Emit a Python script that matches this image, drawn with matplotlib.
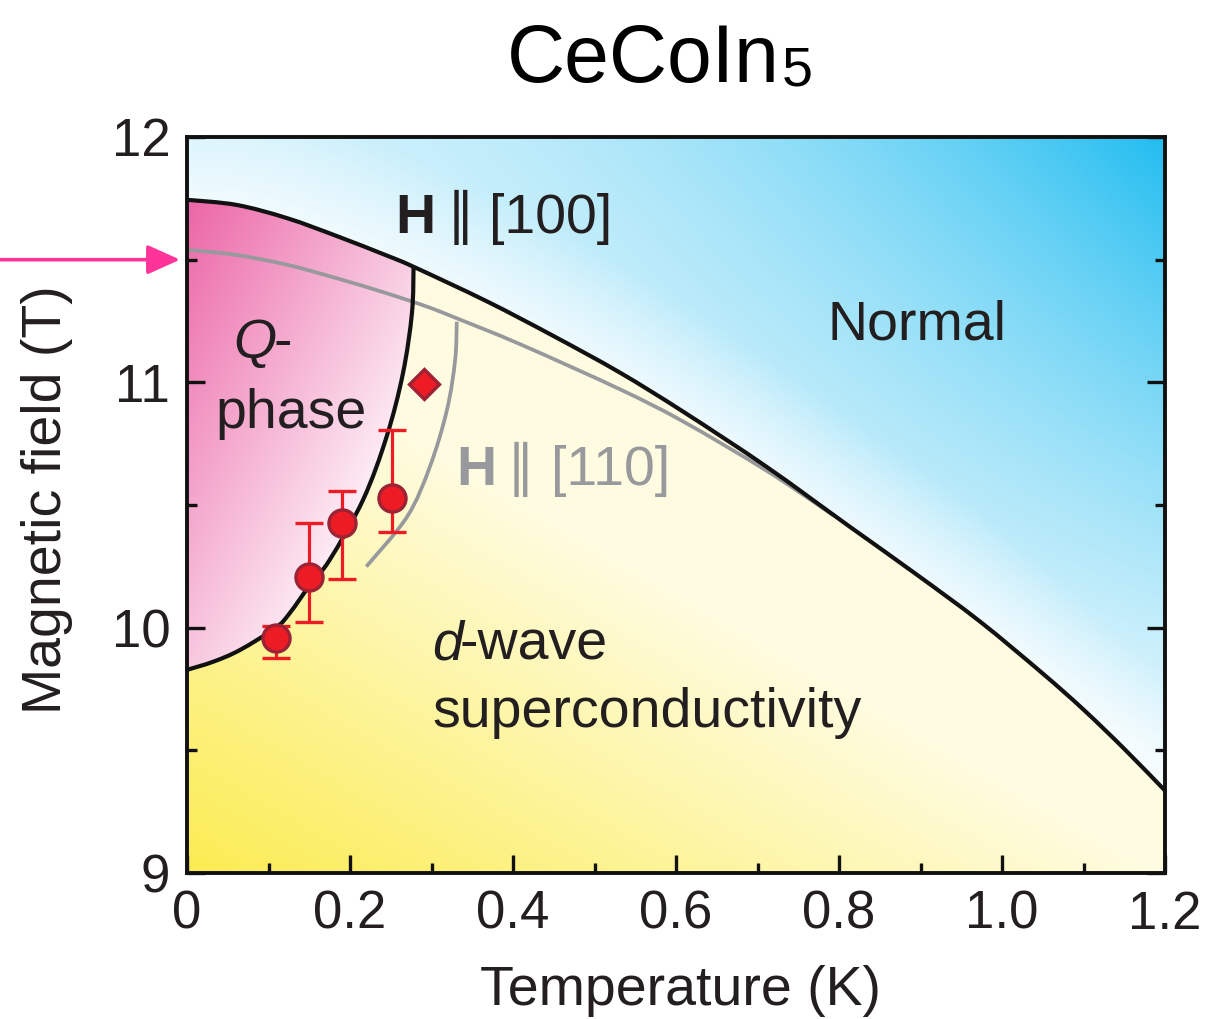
import numpy as np
import matplotlib
matplotlib.use("Agg")
import matplotlib.pyplot as plt
from matplotlib.path import Path
from matplotlib.patches import PathPatch
from matplotlib.ticker import MultipleLocator

# ---------------- data ----------------
# Upper critical field, H || [100]
hc2_100_T = [0, 0.061, 0.123, 0.184, 0.245, 0.278, 0.368, 0.449, 0.531, 0.609,
             0.711, 0.813, 0.893, 0.973, 1.05, 1.1, 1.15, 1.2]
hc2_100_H = [11.744, 11.723, 11.669, 11.596, 11.517, 11.471, 11.330, 11.190,
             11.040, 10.880, 10.656, 10.412, 10.222, 10.025, 9.813, 9.666,
             9.506, 9.336]
# Upper critical field, H || [110] (merges with [100] near 0.8 K)
hc2_110_T = [0, 0.061, 0.123, 0.184, 0.245, 0.294, 0.331, 0.409, 0.531, 0.609,
             0.711, 0.793]
hc2_110_H = [11.540, 11.519, 11.479, 11.424, 11.363, 11.309, 11.261, 11.155,
             10.972, 10.840, 10.640, 10.458]
# Q-phase boundary, H || [100]
q100_T = [0, 0.032, 0.065, 0.109, 0.126, 0.150, 0.175, 0.216, 0.245, 0.265,
          0.276, 0.278]
q100_H = [9.828, 9.861, 9.909, 10.0, 10.059, 10.17, 10.276, 10.521, 10.779,
          11.037, 11.282, 11.471]
# Q-phase boundary, H || [110]
q110_T = [0.220, 0.270, 0.298, 0.319, 0.329, 0.331]
q110_H = [10.249, 10.452, 10.656, 10.888, 11.091, 11.247]
# Data points with asymmetric error bars
pts_T = [0.109, 0.150, 0.190, 0.251]
pts_H = [9.957, 10.208, 10.428, 10.530]
pts_lo = [9.878, 10.024, 10.197, 10.391]
pts_hi = [10.007, 10.426, 10.557, 10.806]
dia_T = [0.291]
dia_H = [10.993]

x_ticks = [0, 0.2, 0.4, 0.6, 0.8, 1.0, 1.2]
x_ticklabels = ["0", "0.2", "0.4", "0.6", "0.8", "1.0", "1.2"]
y_ticks = [9, 10, 11, 12]
y_ticklabels = ["9", "10", "11", "12"]

# ---------------- figure ----------------
W, Hpx = 1214, 1019
plt.rcParams["font.family"] = ["Liberation Sans", "DejaVu Sans"]
TXT = "#231F20"
GRAY = "#97999C"
BLACK = "#111111"

fig = plt.figure(figsize=(W / 100, Hpx / 100), dpi=100)
ax = fig.add_axes([187 / W, 1 - 873 / Hpx, (1165 - 187) / W, (873 - 137) / Hpx])
ax.set_xlim(0, 1.2)
ax.set_ylim(9, 12)


def fx(px):
    return px / W


def fy(py):
    return 1 - py / Hpx


def bezier_verts(xs, ys):
    """Smooth (Catmull-Rom) cubic Bezier control vertices through the points."""
    P = np.column_stack([xs, ys]).astype(float)
    n = len(P)
    verts = [P[0]]
    for i in range(n - 1):
        p0 = P[i - 1] if i > 0 else P[i]
        p1, p2 = P[i], P[i + 1]
        p3 = P[i + 2] if i + 2 < n else P[i + 1]
        verts += [p1 + (p2 - p0) / 6, p2 - (p3 - p1) / 6, p2]
    return np.array(verts)


def curve_path(xs, ys):
    vv = bezier_verts(xs, ys)
    codes = [Path.MOVETO] + [Path.CURVE4] * (len(vv) - 1)
    return Path(vv, codes)


def draw_curve(xs, ys, color, lw, z):
    ax.add_patch(PathPatch(curve_path(xs, ys), fill=False, edgecolor=color,
                           lw=lw, zorder=z, capstyle="butt", joinstyle="round"))


# ---------------- background gradients ----------------
nx, ny = 600, 460
u = np.linspace(0, 1, nx)
v = np.linspace(0, 1, ny)
U, V = np.meshgrid(u, v)
ext = (0, 1.2, 9, 12)

# blue (normal state)
curve_v = (np.interp(U * 1.2, hc2_100_T, hc2_100_H) - 9) / 3
d = V - curve_v
tb = (0.21 + 0.79 * U ** 2) * np.clip(V, 0, 1) ** 1.2
fb = 0.35 + 0.65 * np.clip(d / 0.15, 0, 1)
tb = np.clip(tb * fb, 0, 1)
blue = np.array([0.13, 0.74, 0.94])
img_b = 1 - tb[..., None] * (1 - blue)

# yellow (superconducting)
ty = np.clip(1 - (U + 1.3 * V) / 1.0, 0, 1)
c0 = np.array([1.0, 0.988, 0.885])
c1 = np.array([0.985, 0.925, 0.32])
img_y = c0 + ty[..., None] * (c1 - c0)

# pink (Q-phase)
s = U * 978 * 0.002686 + (673 - 736 * V) * 0.001367
tp = np.clip(1 - s, 0, 1)
pink = np.array([0.925, 0.40, 0.655])
img_p = 1 - tp[..., None] * (1 - pink)

bv = bezier_verts(hc2_100_T, hc2_100_H)
nb = len(bv)
path_n = Path(np.vstack([bv, [(1.2, 12), (0, 12), (0, 0)]]),
              [Path.MOVETO] + [Path.CURVE4] * (nb - 1) +
              [Path.LINETO, Path.LINETO, Path.CLOSEPOLY])
path_s = Path(np.vstack([bv, [(1.2, 9), (0, 9), (0, 0)]]),
              [Path.MOVETO] + [Path.CURVE4] * (nb - 1) +
              [Path.LINETO, Path.LINETO, Path.CLOSEPOLY])
qv = bezier_verts(q100_T, q100_H)
top_rev = bv[:16][::-1]
path_q = Path(np.vstack([qv, top_rev[1:], [(0, 0)]]),
              [Path.MOVETO] + [Path.CURVE4] * (len(qv) - 1) +
              [Path.CURVE4] * (len(top_rev) - 1) + [Path.CLOSEPOLY])

for img, pth, z in [(img_b, path_n, 0.1), (img_y, path_s, 0.2), (img_p, path_q, 0.3)]:
    im = ax.imshow(img, extent=ext, origin="lower", aspect="auto",
                   interpolation="bilinear", zorder=z)
    im.set_clip_path(pth, ax.transData)

# ---------------- lines ----------------
draw_curve(hc2_110_T, hc2_110_H, GRAY, 2.7, 2)
draw_curve(q110_T, q110_H, GRAY, 2.7, 2)
draw_curve(hc2_100_T, hc2_100_H, BLACK, 3.0, 3)
draw_curve(q100_T, q100_H, BLACK, 3.0, 3)

# ---------------- data points ----------------
ph = np.array(pts_H)
yerr = [ph - np.array(pts_lo), np.array(pts_hi) - ph]
ax.errorbar(pts_T, pts_H, yerr=yerr, fmt="o", ms=19.5, mfc="#ED1C24",
            mec="#9B2335", mew=2.4, ecolor="#ED1C24", elinewidth=2.3,
            capsize=10, capthick=2.3, zorder=5)
ax.plot(dia_T, dia_H, "D", ms=15.5, mfc="#ED1C24", mec="#9B2335", mew=2.4,
        zorder=5)

# ---------------- axes styling ----------------
for sp in ax.spines.values():
    sp.set_linewidth(2.8)
    sp.set_color(BLACK)
    sp.set_zorder(6)
ax.set_xticks(x_ticks)
ax.set_xticklabels(x_ticklabels)
ax.set_yticks(y_ticks)
ax.set_yticklabels(y_ticklabels)
ax.xaxis.set_minor_locator(MultipleLocator(0.1))
ax.yaxis.set_minor_locator(MultipleLocator(0.5))
ax.tick_params(which="both", direction="in", top=False, right=True,
               colors=BLACK, labelcolor=TXT, labelsize=38, width=2.4)
ax.tick_params(which="major", length=13, pad=12)
ax.tick_params(which="minor", length=7)

# ---------------- texts ----------------
fig.text(fx(507), fy(82), "CeCoIn", size=58, color="black", va="baseline", ha="left")
fig.text(fx(782), fy(86), "5", size=40, color="black", va="baseline", ha="left")

fig.text(fx(680), fy(1005), "Temperature (K)", size=40, color=TXT,
         ha="center", va="baseline")
fig.text(fx(47), fy(500), "Magnetic field (T)", size=40, color=TXT,
         ha="center", va="center", rotation=90)

fig.text(fx(395), fy(233), "H", size=40, weight="bold", color=TXT, va="baseline")
fig.text(fx(460), fy(233), "\u2225", size=40, color=TXT, va="baseline", ha="center")
fig.text(fx(489), fy(233), "[100]", size=40, color=TXT, va="baseline")

fig.text(fx(456), fy(485), "H", size=40, weight="bold", color=GRAY, va="baseline")
fig.text(fx(520), fy(485), "\u2225", size=40, color=GRAY, va="baseline", ha="center")
fig.text(fx(551), fy(485), "[110]", size=40, color=GRAY, va="baseline")

fig.text(fx(828), fy(340), "Normal", size=40, color=TXT, va="baseline")
fig.text(fx(233), fy(358), "Q", size=40, style="italic", color=TXT, va="baseline")
fig.text(fx(274), fy(358), "-", size=40, color=TXT, va="baseline")
fig.text(fx(215), fy(428), "phase", size=40, color=TXT, va="baseline")
fig.text(fx(432), fy(660), "d", size=40, style="italic", color=TXT, va="baseline")
fig.text(fx(460), fy(660), "-wave", size=40, color=TXT, va="baseline")
fig.text(fx(432), fy(727), "superconductivity", size=40, color=TXT, va="baseline")

# ---------------- pink arrow ----------------
ax.annotate("", xy=(0, 11.5), xycoords="data", xytext=(-190, 0),
            textcoords="offset pixels", annotation_clip=False,
            arrowprops=dict(arrowstyle="-|>,head_length=1.0,head_width=0.45",
                            mutation_scale=20, lw=2.6, color="#FF3399",
                            shrinkA=0, shrinkB=5))

fig.savefig("out.png", dpi=100)
